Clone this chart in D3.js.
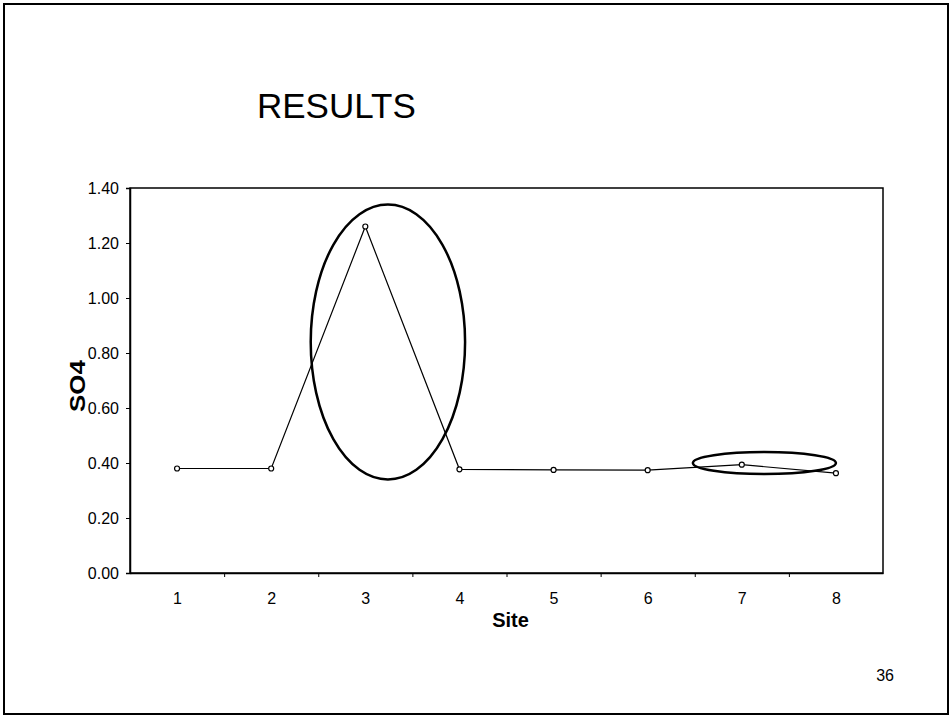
<!DOCTYPE html>
<html>
<head>
<meta charset="utf-8">
<script src="https://cdn.jsdelivr.net/npm/d3@7"></script>
<style>
  body { margin: 0; background: #fff; }
  text { font-family: Arial, "Liberation Sans", sans-serif; fill: #000; }
</style>
</head>
<body>
<div id="chart-area"></div>
<script>
// data
const sites = [1, 2, 3, 4, 5, 6, 7, 8];
const so4 = [0.38, 0.38, 1.26, 0.377, 0.375, 0.374, 0.394, 0.363];
const yTicks = [0, 0.2, 0.4, 0.6, 0.8, 1.0, 1.2, 1.4];
// hand-drawn circles on the slide, in data units: [site, value, radiusSite, radiusValue]
const highlights = [
    [3.24, 0.84, 0.82, 0.50],
    [7.24, 0.40, 0.76, 0.04]
];

const margins = { top: 188, right: 69, bottom: 147, left: 130 },
    chartWidth = 952 - margins.left - margins.right,
    chartHeight = 720 - margins.top - margins.bottom;

const svg = d3.select("#chart-area")
    .append("svg")
    .attr("width", 952)
    .attr("height", 720)
    .style("display", "block");

// slide frame
svg.append("rect")
    .attr("x", 4).attr("y", 4)
    .attr("width", 944).attr("height", 710)
    .attr("fill", "none")
    .attr("stroke", "#000")
    .attr("stroke-width", 2);

svg.append("text")
    .attr("x", 257)
    .attr("y", 118)
    .attr("font-size", "35px")
    .text("RESULTS");

svg.append("text")
    .attr("x", 894)
    .attr("y", 681)
    .attr("text-anchor", "end")
    .attr("font-size", "16px")
    .text("36");

const chart = svg.append("g")
    .attr("transform", `translate(${margins.left},${margins.top})`);

const scaleX = d3.scaleLinear().domain([0.5, 8.5]).range([0, chartWidth]);
const scaleY = d3.scaleLinear().domain([0, 1.4]).range([chartHeight, 0]);

// plot area box
chart.append("rect")
    .attr("width", chartWidth)
    .attr("height", chartHeight)
    .attr("fill", "none")
    .attr("stroke", "#000")
    .attr("stroke-width", 1.5);

const leftAxis = d3.axisLeft(scaleY)
    .tickValues(yTicks)
    .tickSize(4)
    .tickPadding(7)
    .tickFormat(d3.format(".2f"));

chart.append("g")
    .attr("class", "y-axis")
    .attr("font-size", 16)
    .call(leftAxis)
    .call(g => g.select(".domain").attr("stroke-width", 1.5))
    .selectAll("text")
    .attr("font-size", "16px");

// tick marks sit between the categories, labels under them
chart.append("g")
    .attr("transform", `translate(0,${chartHeight})`)
    .call(d3.axisBottom(scaleX).tickValues(d3.range(1.5, 8, 1)).tickSize(4).tickFormat(""))
    .call(g => g.select(".domain").remove());

chart.append("g")
    .attr("class", "x-axis")
    .attr("transform", `translate(0,${chartHeight})`)
    .call(d3.axisBottom(scaleX).tickValues(sites).tickSize(0).tickPadding(20))
    .call(g => g.select(".domain").attr("stroke-width", 1.5))
    .selectAll("text")
    .attr("font-size", "16px");

chart.selectAll(".tick text")
    .style("font-family", "Arial, 'Liberation Sans', sans-serif")
    .style("font-size", "16px");

chart.append("text")
    .attr("x", scaleX(4.5) + 4)
    .attr("y", chartHeight + 54)
    .attr("text-anchor", "middle")
    .attr("font-size", "20px")
    .attr("font-weight", "bold")
    .text("Site");

chart.append("text")
    .attr("transform", "rotate(-90)")
    .attr("x", -(scaleY(0.68)))
    .attr("y", -45)
    .attr("text-anchor", "middle")
    .attr("font-size", "22px")
    .attr("font-weight", "bold")
    .attr("textLength", 52)
    .attr("lengthAdjust", "spacingAndGlyphs")
    .text("SO4");

const points = sites.map((s, i) => ({ site: s, value: so4[i] }));

chart.append("path")
    .datum(points)
    .attr("fill", "none")
    .attr("stroke", "#000")
    .attr("stroke-width", 1.2)
    .attr("d", d3.line().x(d => scaleX(d.site)).y(d => scaleY(d.value)));

chart.selectAll(".marker")
    .data(points)
    .enter().append("circle")
    .attr("class", "marker")
    .attr("cx", d => scaleX(d.site))
    .attr("cy", d => scaleY(d.value))
    .attr("r", 2.5)
    .attr("fill", "#fff")
    .attr("stroke", "#000")
    .attr("stroke-width", 1.2);

chart.selectAll(".highlight")
    .data(highlights)
    .enter().append("ellipse")
    .attr("class", "highlight")
    .attr("cx", d => scaleX(d[0]))
    .attr("cy", d => scaleY(d[1]))
    .attr("rx", d => scaleX(d[0] + d[2]) - scaleX(d[0]))
    .attr("ry", d => scaleY(0) - scaleY(d[3]))
    .attr("fill", "none")
    .attr("stroke", "#000")
    .attr("stroke-width", 2.5);
</script>
</body>
</html>
